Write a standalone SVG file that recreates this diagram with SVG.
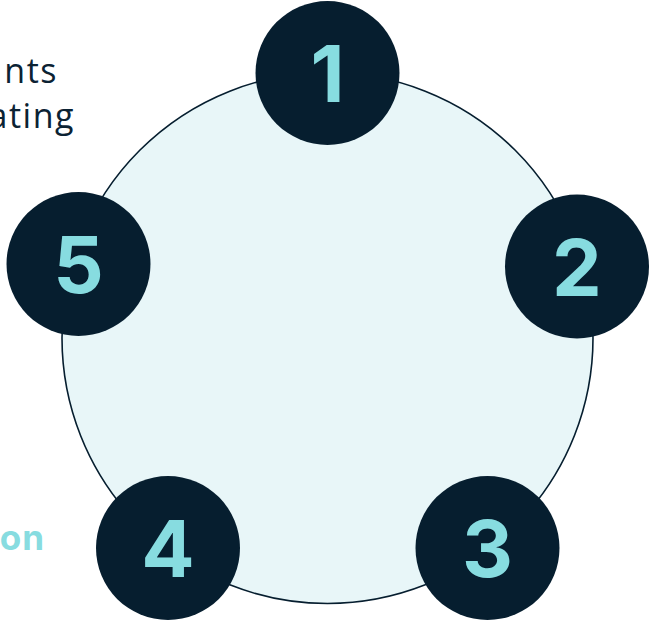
<svg xmlns="http://www.w3.org/2000/svg" width="651" height="620" viewBox="0 0 651 620">
<style>
.node circle{fill:#061e2f}
.num{font-family:"Inter","Liberation Sans",sans-serif;font-weight:700;font-size:79px;fill:#87dce0;text-anchor:middle}
.lbl{font-family:"Open Sans","Liberation Sans",sans-serif;font-size:34px;letter-spacing:1.5px;fill:#0b2233;text-anchor:end}
.lblb{font-family:"Inter","Liberation Sans",sans-serif;font-size:35px;font-weight:700;letter-spacing:1px;fill:#87dce0;text-anchor:end}
</style>
<rect width="651" height="620" fill="#ffffff"/>
<g id="connectors">
<circle cx="327.5" cy="338" r="265.5" fill="#e8f6f8" stroke="#061e2f" stroke-width="1.6"/>
</g>
<g id="labels">
<text class="lbl" x="58" y="83">nts</text>
<text class="lbl" x="75" y="128">ating</text>
<text class="lblb" x="45" y="550">on</text>
</g>
<g id="node1" class="node"><circle cx="327.5" cy="73" r="72"/><text class="num" x="327.5" y="102">1</text></g>
<g id="node2" class="node"><circle cx="577" cy="266.5" r="72"/><text class="num" x="577" y="296">2</text></g>
<g id="node3" class="node"><circle cx="487.5" cy="548" r="72"/><text class="num" x="487.5" y="577">3</text></g>
<g id="node4" class="node"><circle cx="168" cy="548" r="72"/><text class="num" x="168" y="577">4</text></g>
<g id="node5" class="node"><circle cx="78.5" cy="264" r="72"/><text class="num" x="78.5" y="293">5</text></g>
</svg>
